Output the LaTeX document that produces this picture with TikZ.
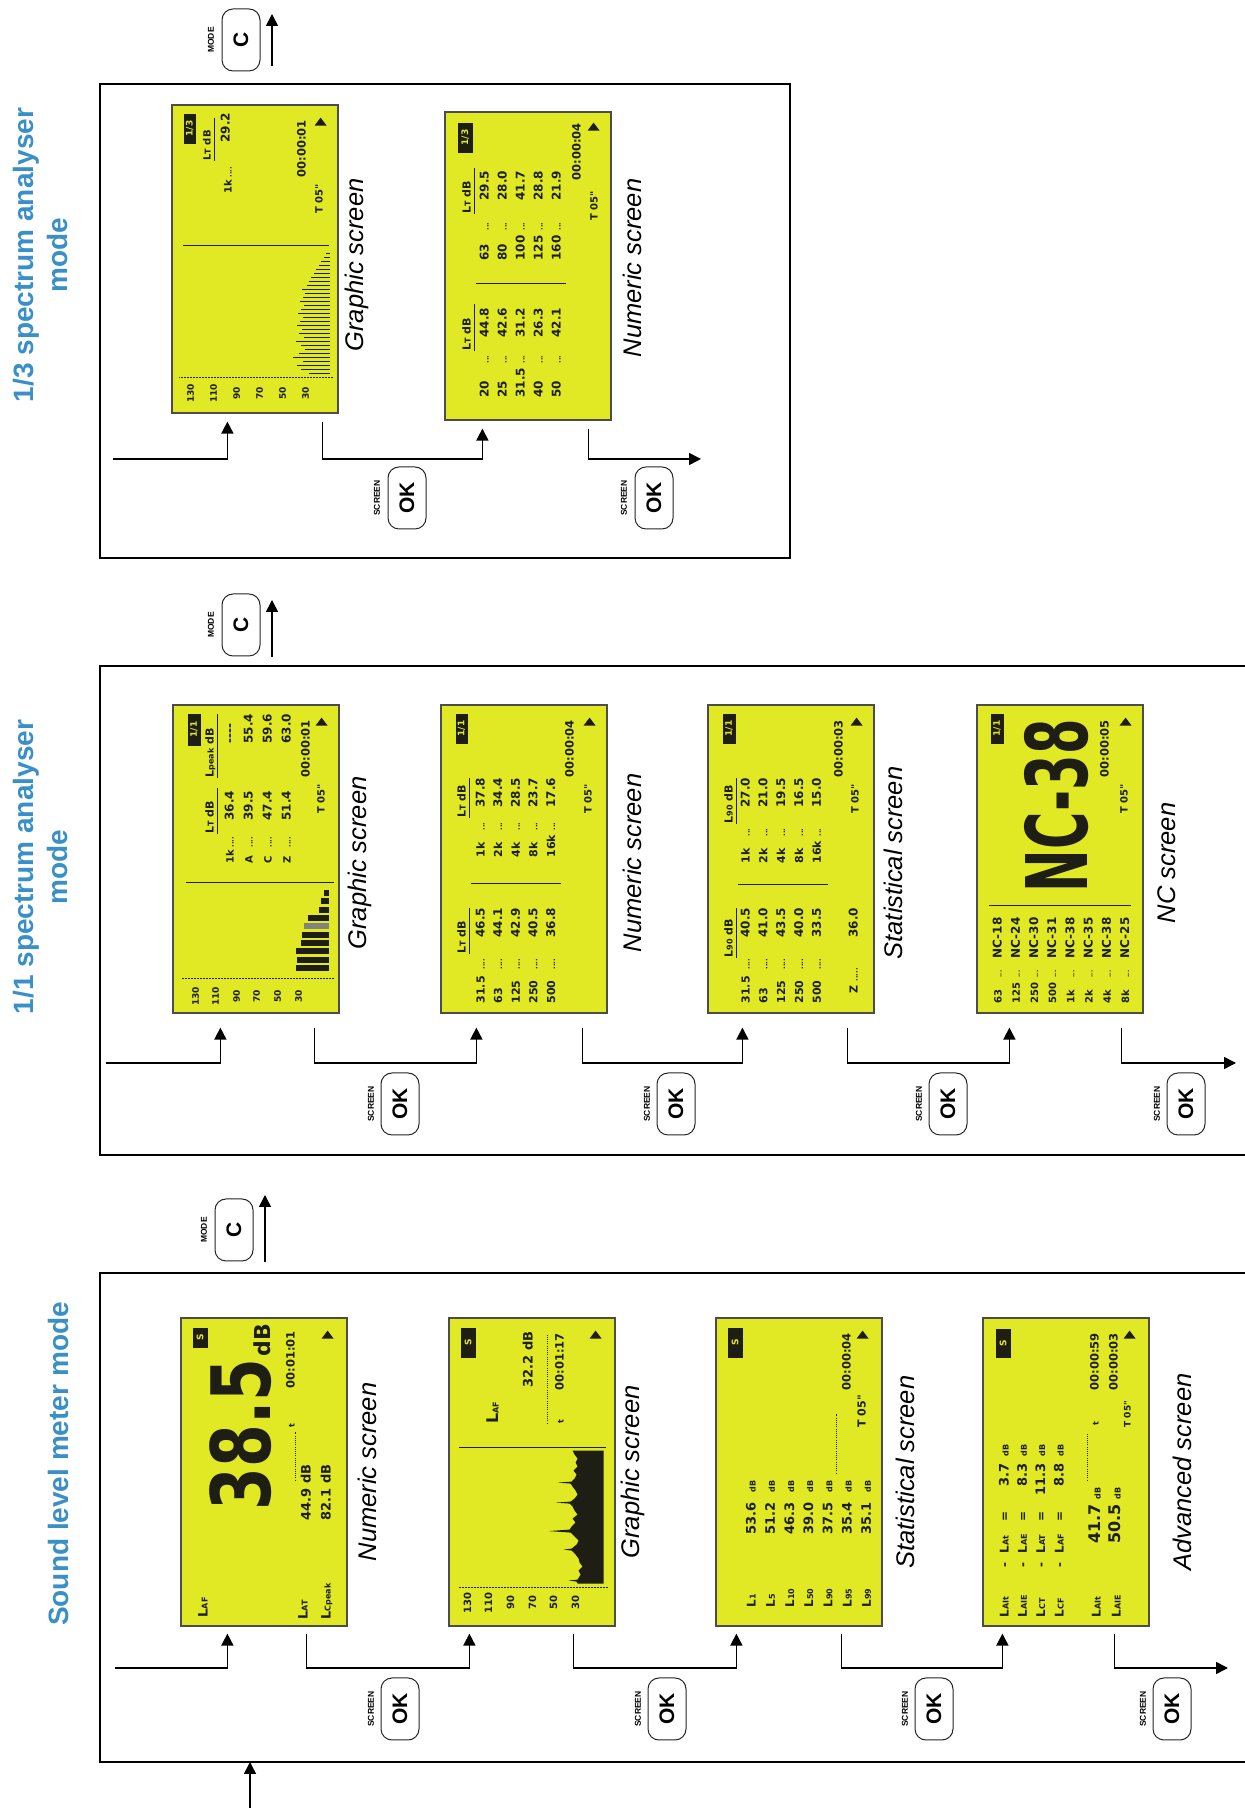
\documentclass[tikz,border=0pt]{standalone}
\usepackage{fontspec}
\setmainfont{Liberation Sans}
\newfontfamily\lcdfam{DejaVu Sans}
\usetikzlibrary{arrows.meta,calc}
\definecolor{lcdyellow}{RGB}{224,233,36}
\definecolor{lcdink}{RGB}{30,30,20}
\definecolor{titleblue}{RGB}{58,143,199}
\newcommand\lcds[1]{\lcdfam\bfseries\fontsize{#1}{#1}\selectfont}
\newcommand\lsub[1]{{\fontsize{8}{8}\selectfont #1}}
\newcommand\lcddash{-{}-{}-{}-}
\newcounter{lcdn}
\newcommand\lcdtxt[4][]{\stepcounter{lcdn}\node[lcdtext,#1] (lt\arabic{lcdn}) at (#2,#3) {#4};}
\newcommand\lcdbadge[5]{\fill[lcdink] (#1,#2) rectangle (#3,#4);\stepcounter{lcdn}\node[lcdtext,anchor=center,text=lcdyellow,font=\lcds{9}] (lt\arabic{lcdn}) at ($(#1,#2)!0.5!(#3,#4)$) {#5};}
\newcommand\lcdtri[2]{\fill[lcdink] (#1,#2) -- (#1,#2+12) -- (#1+8,#2+6) -- cycle;}
\begin{document}
\begin{tikzpicture}[x=1pt,y=1pt,
 lcdtext/.style={inner sep=0pt,text=lcdink,anchor=base west,font=\lcds{12}},
 lcdscreen/.style={draw=black!70,line width=1.2pt,fill=lcdyellow,minimum width=166pt,minimum height=308pt,inner sep=0pt},
 modeframe/.style={draw=black,line width=2.6pt},
 conn/.style={line width=1.6pt,-{Triangle[width=12pt,length=12pt]}},
 btn/.style={draw=black!85,line width=1pt,rounded corners=11pt,minimum width=62pt,minimum height=38pt,inner sep=0pt,rotate=90,font=\bfseries\fontsize{21}{21}\selectfont},
 keylab/.style={rotate=90,inner sep=0pt,font=\bfseries\fontsize{8.5}{8.5}\selectfont},
 scrcap/.style={rotate=90,inner sep=0pt,font=\itshape\fontsize{25.5}{25.5}\selectfont},
 modetitle/.style={rotate=90,inner sep=0pt,text=titleblue,align=center,font=\bfseries\fontsize{28}{34}\selectfont},
 lcdsep/.style={draw=lcdink,line width=1.8pt},
 dotl/.style={draw=lcdink,line width=0.8pt,dash pattern=on 1pt off 1.2pt},
 axisl/.style={draw=lcdink,line width=1pt,dash pattern=on 1.5pt off 1.5pt},
 uline/.style={draw=lcdink,line width=0.9pt},
 lcdin/.style={shift={(#1.south east)},rotate=90,every node/.append style={transform shape}}
]
\useasboundingbox (0,0) rectangle (1245,1808);
\clip (0,0) rectangle (1245,1808);
\fill[white] (0,0) rectangle (1245,1808);

% ---------- frames ----------
\draw[modeframe] (100,1250) rectangle (790,1724);
\draw[modeframe] (100,653) rectangle (1270,1142);
\draw[modeframe] (100,46) rectangle (1270,535);

% ---------- titles ----------
\node[modetitle] (t3) at (58,344) {Sound level meter mode};
\node[modetitle] (t2) at (40,941) {1/1 spectrum analyser\\mode};
\node[modetitle] (t1) at (40,1553) {1/3 spectrum analyser\\mode};

% ================= Row 3 : sound level meter =================
\node[lcdscreen] (s31) at (264,336) {};
\begin{scope}[lcdin=s31]
\lcdbadge{279}{140}{299}{155}{S}
\lcdtxt[font=\lcds{82},xscale=0.75]{116}{77}{38.5}
\lcdtxt[font=\lcds{22}]{270}{77}{dB}
\lcdtxt[font=\lcds{11.5}]{238}{53}{00:01:01}
\lcdtxt[font=\lcds{8}]{199}{53}{t}
\draw[dotl] (146,52) -- (195,52);
\lcdtxt[font=\lcds{13}]{106}{37}{44.9 dB}
\lcdtxt[font=\lcds{13}]{106}{17}{82.1 dB}
\lcdtxt[font=\lcds{13}]{9}{140}{L\lsub{AF}}
\lcdtxt[font=\lcds{13}]{7}{40}{L\lsub{AT}}
\lcdtxt[font=\lcds{13}]{7}{17}{L\lsub{Cpeak}}
\lcdtri{288}{14}
\end{scope}

\node[lcdscreen] (s32) at (532,336) {};
\begin{scope}[lcdin=s32]
\lcdbadge{269}{140}{299}{155}{S}
\lcdtxt[font=\lcds{16}]{203}{117}{L\lsub{AF}}
\lcdtxt[font=\lcds{13}]{239}{83}{32.2 dB}
\draw[dotl] (203,68) -- (293,68);
\lcdtxt[font=\lcds{8}]{203}{52}{t}
\lcdtxt[font=\lcds{11.5}]{236}{52}{00:01:17}
\draw[lcdsep] (179,10) -- (179,157);
\foreach \v/\yy in {130/148,110/127,90/105,70/83,50/62,30/40}{\lcdtxt[anchor=center,font=\lcds{10}]{24}{\yy}{\v}}
\draw[axisl] (39,8) -- (39,158);
\fill[lcdink] (43,12) -- (43,38) -- (45,39) -- (46,47) -- (47,38) -- (52,35) -- (56,37) -- (60,33) -- (64,36) -- (68,37) -- (72,40) -- (76,44) -- (77,52) -- (78,44) -- (82,39) -- (86,37) -- (90,41) -- (94,45) -- (95.5,67) -- (97,46) -- (100,44) -- (104,40) -- (108,43) -- (112,38) -- (116,41) -- (120,43) -- (123,46) -- (124,60) -- (125,45) -- (128,41) -- (132,38) -- (136,40) -- (140,43) -- (143,45) -- (144,58) -- (145,44) -- (148,41) -- (152,39) -- (156,42) -- (160,38) -- (164,40) -- (168,38) -- (172,41) -- (176,43) -- (176,12) -- cycle;
\lcdtri{288}{14}
\end{scope}

\node[lcdscreen] (s33) at (799,336) {};
\begin{scope}[lcdin=s33]
\lcdbadge{269}{140}{299}{155}{S}
\lcdtxt[font=\lcds{11.5}]{236}{32}{00:00:04}
\lcdtxt[font=\lcds{11}]{199}{17}{T 05"}
\draw[dotl] (153,46) -- (213,46);
\foreach \lab/\val [count=\i from 0] in {1/53.6,5/51.2,10/46.3,50/39.0,90/37.5,95/35.4,99/35.1}{
 \pgfmathsetmacro\yy{127-19.2*\i}
 \lcdtxt[font=\lcds{12}]{19}{\yy}{L\lsub{\lab}}
 \lcdtxt[font=\lcds{13}]{92}{\yy}{\val}
 \lcdtxt[font=\lcds{8}]{134}{\yy}{dB}}
\lcdtri{288}{14}
\end{scope}

\node[lcdscreen] (s34) at (1066,336) {};
\begin{scope}[lcdin=s34]
\lcdbadge{269}{139}{298}{154}{S}
\lcdtxt[font=\lcds{11.5}]{236}{51}{00:00:59}
\lcdtxt[font=\lcds{11.5}]{236}{32}{00:00:03}
\lcdtxt[font=\lcds{8}]{201}{51}{t}
\lcdtxt[font=\lcds{9}]{199}{19}{T 05"}
\draw[dotl] (146,62) -- (193,62);
\foreach \a/\b/\v [count=\i from 0] in {AIt/At/3.7,AIE/AE/8.3,CT/AT/11.3,CF/AF/8.8}{
 \pgfmathsetmacro\yy{141-18.3*\i}
 \lcdtxt[font=\lcds{12}]{9}{\yy}{L\lsub{\a}}
 \lcdtxt[font=\lcds{12}]{59}{\yy}{-}
 \lcdtxt[font=\lcds{12}]{73}{\yy}{L\lsub{\b}}
 \lcdtxt[font=\lcds{12}]{105}{\yy}{=}
 \lcdtxt[anchor=base east,font=\lcds{13}]{163}{\yy}{\v}
 \lcdtxt[font=\lcds{8}]{170}{\yy}{dB}}
\lcdtxt[font=\lcds{12}]{9}{49}{L\lsub{AIt}}
\lcdtxt[font=\lcds{16}]{83}{49}{41.7}
\lcdtxt[font=\lcds{8}]{127}{49}{dB}
\lcdtxt[font=\lcds{12}]{9}{29}{L\lsub{AIE}}
\lcdtxt[font=\lcds{16}]{83}{29}{50.5}
\lcdtxt[font=\lcds{8}]{127}{29}{dB}
\lcdtri{288}{14}
\end{scope}

% ================= Row 2 : 1/1 spectrum =================
\node[lcdscreen] (s21) at (256,949) {};
\begin{scope}[lcdin=s21]
\lcdbadge{268}{139}{300}{152}{1/1}
\lcdtxt[font=\lcds{11}]{180}{126}{L\lsub{T} dB}
\draw[uline] (180,122) -- (226,122);
\lcdtxt[font=\lcds{11}]{236}{126}{L\lsub{peak} dB}
\draw[uline] (236,122) -- (300,122);
\foreach \f/\a/\b [count=\i from 0] in {1k/36.4/\lcddash,A/39.5/55.4,C/47.4/59.6,Z/51.4/63.0}{
 \pgfmathsetmacro\yy{106-19*\i}
 \lcdtxt[font=\lcds{10}]{150}{\yy}{\f}
 \lcdtxt[font=\lcds{7}]{166}{\yy}{....}
 \lcdtxt[font=\lcds{12}]{193}{\yy}{\a}
 \lcdtxt[font=\lcds{12}]{270}{\yy}{\b}}
\lcdtxt[font=\lcds{11.5}]{236}{30}{00:00:01}
\lcdtxt[font=\lcds{10}]{200}{15}{T 05"}
\draw[lcdsep] (131,6) -- (131,154);
\foreach \v/\yy in {130/144,110/124,90/103,70/83,50/62,30/41}{\lcdtxt[anchor=center,font=\lcds{9}]{17}{\yy}{\v}}
\draw[axisl] (35,6) -- (35,158);
\foreach \xx/\tt in {46/44,54/43,63/44,71/39,79/38,96/32,104/21,113/19,121/16}{\fill[lcdink] (\xx-3,11) rectangle (\xx+3,\tt);}
\fill[lcdink!55] (85,11) rectangle (91,36);
\lcdtri{288}{12}
\end{scope}

\node[lcdscreen] (s22) at (524,949) {};
\begin{scope}[lcdin=s22]
\lcdbadge{270}{140}{300}{152}{1/1}
\lcdtxt[font=\lcds{11}]{60}{142}{L\lsub{T} dB}
\draw[uline] (60,138) -- (106,138);
\lcdtxt[font=\lcds{11}]{196}{142}{L\lsub{T} dB}
\draw[uline] (196,138) -- (236,138);
\draw[lcdsep] (130,47) -- (130,137);
\foreach \f/\v [count=\i from 0] in {31.5/46.5,63/44.1,125/42.9,250/40.5,500/36.8}{
 \pgfmathsetmacro\yy{123-17.6*\i}
 \lcdtxt[font=\lcds{11}]{10}{\yy}{\f}
 \lcdtxt[font=\lcds{7}]{44}{\yy}{....}
 \lcdtxt[font=\lcds{12}]{76}{\yy}{\v}}
\foreach \f/\v [count=\i from 0] in {1k/37.8,2k/34.4,4k/28.5,8k/23.7,16k/17.6}{
 \pgfmathsetmacro\yy{123-17.6*\i}
 \lcdtxt[font=\lcds{11}]{156}{\yy}{\f}
 \lcdtxt[font=\lcds{7}]{183}{\yy}{...}
 \lcdtxt[font=\lcds{12}]{206}{\yy}{\v}}
\lcdtxt[font=\lcds{11.5}]{236}{34}{00:00:04}
\lcdtxt[font=\lcds{10}]{200}{16}{T 05"}
\lcdtri{288}{12}
\end{scope}

\node[lcdscreen] (s23) at (791,949) {};
\begin{scope}[lcdin=s23]
\lcdbadge{270}{139}{300}{152}{1/1}
\lcdtxt[font=\lcds{11}]{56}{142}{L\lsub{90} dB}
\draw[uline] (56,138) -- (106,138);
\lcdtxt[font=\lcds{11}]{190}{142}{L\lsub{90} dB}
\draw[uline] (190,138) -- (236,138);
\draw[lcdsep] (129,47) -- (129,137);
\foreach \f/\v [count=\i from 0] in {31.5/40.5,63/41.0,125/43.5,250/40.0,500/33.5}{
 \pgfmathsetmacro\yy{125-17.8*\i}
 \lcdtxt[font=\lcds{11}]{10}{\yy}{\f}
 \lcdtxt[font=\lcds{7}]{44}{\yy}{....}
 \lcdtxt[font=\lcds{12}]{76}{\yy}{\v}}
\lcdtxt[font=\lcds{11}]{20}{17}{Z}
\lcdtxt[font=\lcds{7}]{32}{17}{.....}
\lcdtxt[font=\lcds{12}]{76}{17}{36.0}
\foreach \f/\v [count=\i from 0] in {1k/27.0,2k/21.0,4k/19.5,8k/16.5,16k/15.0}{
 \pgfmathsetmacro\yy{125-17.8*\i}
 \lcdtxt[font=\lcds{11}]{150}{\yy}{\f}
 \lcdtxt[font=\lcds{7}]{177}{\yy}{...}
 \lcdtxt[font=\lcds{12}]{206}{\yy}{\v}}
\lcdtxt[font=\lcds{11.5}]{236}{32}{00:00:03}
\lcdtxt[font=\lcds{10}]{200}{16}{T 05"}
\lcdtri{288}{12}
\end{scope}

\node[lcdscreen] (s24) at (1060,949) {};
\begin{scope}[lcdin=s24]
\lcdbadge{270}{140}{300}{153}{1/1}
\lcdtxt[font=\lcds{85},xscale=0.6]{121}{56}{NC-38}
\lcdtxt[font=\lcds{11.5}]{236}{35}{00:00:05}
\lcdtxt[font=\lcds{10}]{200}{16}{T 05"}
\draw[lcdsep] (108,13) -- (108,155);
\foreach \f/\v [count=\i from 0] in {63/18,125/24,250/30,500/31,1k/38,2k/35,4k/38,8k/25}{
 \pgfmathsetmacro\yy{142-18.2*\i}
 \lcdtxt[font=\lcds{10}]{10}{\yy}{\f}
 \lcdtxt[font=\lcds{6}]{36}{\yy}{...}
 \lcdtxt[font=\lcds{12}]{55}{\yy}{NC-\v}}
\lcdtri{288}{12}
\end{scope}

% ================= Row 1 : 1/3 spectrum =================
\node[lcdscreen] (s11) at (255,1549) {};
\begin{scope}[lcdin=s11]
\lcdbadge{270}{143}{300}{155}{1/3}
\lcdtxt[font=\lcds{10}]{253}{128}{L\lsub{T} dB}
\draw[uline] (253,124) -- (296,124);
\lcdtxt[font=\lcds{12}]{271}{109}{29.2}
\lcdtxt[font=\lcds{10}]{220}{107}{1k}
\lcdtxt[font=\lcds{7}]{236}{107}{....}
\lcdtxt[font=\lcds{11.5}]{236}{33}{00:00:01}
\lcdtxt[font=\lcds{10}]{200}{16}{T 05"}
\draw[lcdsep] (168,10) -- (168,156);
\foreach \v/\yy in {130/148,110/125,90/102,70/79,50/56,30/33}{\lcdtxt[anchor=center,font=\lcds{9}]{20}{\yy}{\v}}
\draw[axisl] (36,6) -- (36,160);
\foreach \xx/\tt in {40/30,44/38,48/42,52/36,56/46,60/40,64/34,68/38,72/43,76/35,80/40,84/37,88/42,92/39,96/36,100/41,104/38,108/35,112/39,116/36,120/34,124/37,128/32,132/30,136/28,140/25,144/23,148/20,152/18,156/15,160/13}{\fill[lcdink] (\xx-0.9,9) rectangle (\xx+0.9,\tt);}
\lcdtri{288}{12}
\end{scope}

\node[lcdscreen] (s12) at (528,1542) {};
\begin{scope}[lcdin=s12]
\lcdbadge{268}{139}{298}{154}{1/3}
\lcdtxt[font=\lcds{11}]{70}{141}{L\lsub{T} dB}
\draw[uline] (70,137) -- (117,137);
\lcdtxt[font=\lcds{11}]{207}{141}{L\lsub{T} dB}
\draw[uline] (207,137) -- (253,137);
\draw[lcdsep] (137,46) -- (137,136);
\foreach \f/\v [count=\i from 0] in {20/44.8,25/42.6,31.5/31.2,40/26.3,50/42.1}{
 \pgfmathsetmacro\yy{123-18*\i}
 \lcdtxt[font=\lcds{12}]{23}{\yy}{\f}
 \lcdtxt[font=\lcds{7}]{57}{\yy}{...}
 \lcdtxt[font=\lcds{12}]{83}{\yy}{\v}}
\foreach \f/\v [count=\i from 0] in {63/29.5,80/28.0,100/41.7,125/28.8,160/21.9}{
 \pgfmathsetmacro\yy{123-18*\i}
 \lcdtxt[font=\lcds{12}]{160}{\yy}{\f}
 \lcdtxt[font=\lcds{7}]{190}{\yy}{...}
 \lcdtxt[font=\lcds{12}]{220}{\yy}{\v}}
\lcdtxt[font=\lcds{11.5}]{240}{31}{00:00:04}
\lcdtxt[font=\lcds{10}]{200}{14}{T 05"}
\lcdtri{290}{12}
\end{scope}

% ---------- captions ----------
\node[scrcap] (c31) at (367,336) {Numeric screen};
\node[scrcap] (c32) at (633,336) {Graphic screen};
\node[scrcap] (c33) at (905,336) {Statistical screen};
\node[scrcap] (c34) at (1182,336) {Advanced screen};
\node[scrcap] (c21) at (360,945) {Graphic screen};
\node[scrcap] (c22) at (632,945) {Numeric screen};
\node[scrcap] (c23) at (893,945) {Statistical screen};
\node[scrcap] (c24) at (1167,945) {NC screen};
\node[scrcap] (c11) at (357,1543) {Graphic screen};
\node[scrcap] (c12) at (632,1540) {Numeric screen};

% ---------- buttons ----------
\foreach \bx/\nm in {400/a,667/b,934/c,1172/d}{
 \node[btn] (ok3\nm) at (\bx,99) {OK};
 \node[keylab] (sc3\nm) at (\bx-29,99) {SCREEN};}
\foreach \bx/\nm in {400/a,676/b,948/c,1186/d}{
 \node[btn] (ok2\nm) at (\bx,704) {OK};
 \node[keylab] (sc2\nm) at (\bx-29,704) {SCREEN};}
\foreach \bx/\nm in {407/a,654/b}{
 \node[btn] (ok1\nm) at (\bx,1310) {OK};
 \node[keylab] (sc1\nm) at (\bx-30,1310) {SCREEN};}
\node[btn] (mc3) at (234,578) {C};
\node[keylab] (ml3) at (204,578) {MODE};
\node[btn] (mc2) at (241,1183) {C};
\node[keylab] (ml2) at (211,1183) {MODE};
\node[btn] (mc1) at (241,1768) {C};
\node[keylab] (ml1) at (211,1768) {MODE};

% ---------- mode arrows ----------
\coordinate (m3a) at (265,546); \coordinate (m3b) at (265,613);
\coordinate (m2a) at (272,1151); \coordinate (m2b) at (272,1208);
\coordinate (m1a) at (272,1742); \coordinate (m1b) at (272,1794);
\draw[conn] (m3a) -- (m3b);
\draw[conn] (m2a) -- (m2b);
\draw[conn] (m1a) -- (m1b);
\coordinate (entry) at (250,-5); \coordinate (b3in) at (250,46);
\draw[conn] (entry) -- (b3in);

% ---------- row 3 connectors ----------
\coordinate (r3) at (0,140);
\coordinate (in3) at (115,140);
\coordinate (end3) at (1228,140);
\coordinate (s31i) at ([xshift=47pt,yshift=-7pt]s31.south west);
\coordinate (s31o) at ([xshift=126pt,yshift=-7pt]s31.south west);
\coordinate (s32i) at ([xshift=21pt,yshift=-7pt]s32.south west);
\coordinate (s32o) at ([xshift=125pt,yshift=-7pt]s32.south west);
\coordinate (s33i) at ([xshift=21pt,yshift=-7pt]s33.south west);
\coordinate (s33o) at ([xshift=126pt,yshift=-7pt]s33.south west);
\coordinate (s34i) at ([xshift=20pt,yshift=-7pt]s34.south west);
\coordinate (s34o) at ([xshift=132pt,yshift=-7pt]s34.south west);
\draw[conn] (in3) -| (s31i);
\draw[conn] (s31o) -- (s31o |- r3) -| (s32i);
\draw[conn] (s32o) -- (s32o |- r3) -| (s33i);
\draw[conn] (s33o) -- (s33o |- r3) -| (s34i);
\draw[conn] (s34o) |- (end3);

% ---------- row 2 connectors ----------
\coordinate (r2) at (0,745);
\coordinate (in2) at (106,745);
\coordinate (end2) at (1236,745);
\coordinate (s21i) at ([xshift=48pt,yshift=-14pt]s21.south west);
\coordinate (s21o) at ([xshift=142pt,yshift=-14pt]s21.south west);
\coordinate (s22i) at ([xshift=36pt,yshift=-14pt]s22.south west);
\coordinate (s22o) at ([xshift=142pt,yshift=-14pt]s22.south west);
\coordinate (s23i) at ([xshift=35pt,yshift=-14pt]s23.south west);
\coordinate (s23o) at ([xshift=140pt,yshift=-14pt]s23.south west);
\coordinate (s24i) at ([xshift=33pt,yshift=-14pt]s24.south west);
\coordinate (s24o) at ([xshift=145pt,yshift=-14pt]s24.south west);
\draw[conn] (in2) -| (s21i);
\draw[conn] (s21o) -- (s21o |- r2) -| (s22i);
\draw[conn] (s22o) -- (s22o |- r2) -| (s23i);
\draw[conn] (s23o) -- (s23o |- r2) -| (s24i);
\draw[conn] (s24o) |- (end2);

% ---------- row 1 connectors ----------
\coordinate (r1) at (0,1349);
\coordinate (in1) at (113,1349);
\coordinate (end1) at (701,1349);
\coordinate (s11i) at ([xshift=56pt,yshift=-8pt]s11.south west);
\coordinate (s11o) at ([xshift=151pt,yshift=-8pt]s11.south west);
\coordinate (s12i) at ([xshift=38pt,yshift=-8pt]s12.south west);
\coordinate (s12o) at ([xshift=144pt,yshift=-8pt]s12.south west);
\draw[conn] (in1) -| (s11i);
\draw[conn] (s11o) -- (s11o |- r1) -| (s12i);
\draw[conn] (s12o) |- (end1);
\end{tikzpicture}
\end{document}
